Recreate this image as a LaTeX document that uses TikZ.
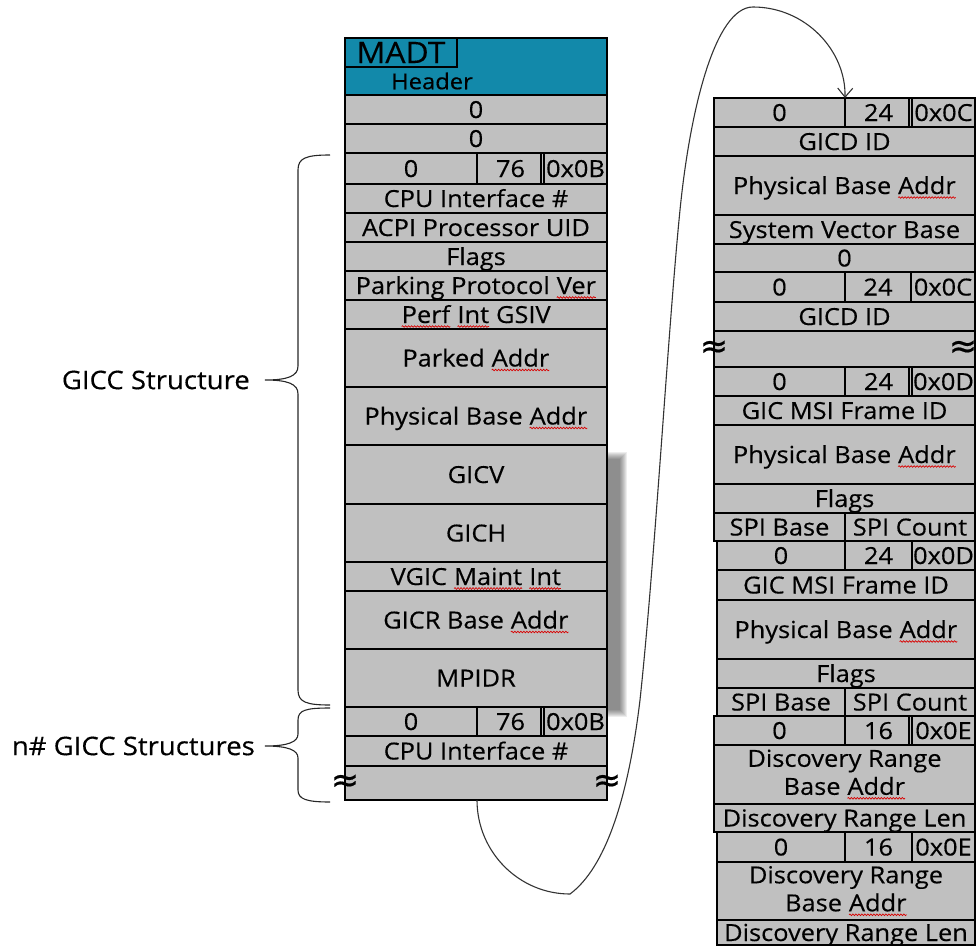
\documentclass[tikz,border=0pt]{standalone}
\usepackage{fontspec}
\setmainfont{Open Sans}
\newfontfamily\cellfont{Open Sans}[FakeBold=0.35,FakeStretch=1.08]
\newfontfamily\symfont{DejaVu Sans}[FakeBold=0.5]
\usetikzlibrary{arrows.meta,decorations.pathmorphing}
\definecolor{cellgray}{HTML}{C0C0C0}
\definecolor{madtblue}{HTML}{1289AA}
\newcommand\bodyfont{\cellfont\fontsize{23.5}{28}\selectfont}
\newcommand\sq[1]{\tikz[baseline=(sqw.base)]{\node[draw=none,fill=none,minimum width=0pt,minimum height=0pt,inner sep=0pt,outer sep=0pt,text height={},text depth={},anchor=center] (sqw) {#1};\draw[draw=red!85!black,line width=0.7pt,decorate,decoration={snake,amplitude=0.8pt,segment length=3pt}] ([yshift=-3.5pt]sqw.base west) -- ([yshift=-3.5pt]sqw.base east);}}
\newcommand\mkcell[6]{\node[cellst,minimum width=#4pt,minimum height=#5pt] (#1) at (#2,#3) {#6};}
\begin{document}
\begin{tikzpicture}[x=1pt,y=-1pt,
  cellst/.style={draw=black,line width=1.2pt,fill=cellgray,anchor=north west,inner sep=0pt,outer sep=0pt,font=\bodyfont,align=center,text height=17pt,text depth=0pt},
  twoline/.style={text height={},text depth={}},
  thk/.style={draw=black,line width=2.4pt},
  dbl/.style={draw=black,line width=1.2pt},
  sgl/.style={draw=black,line width=2pt},
  symst/.style={font=\symfont\fontsize{34}{34}\selectfont,inner sep=0pt},
  lbl/.style={font=\cellfont\fontsize{25.5}{28}\selectfont,inner sep=0pt,anchor=east},
  bracest/.style={draw=black!85,line width=1.1pt},
  conn/.style={draw=black!80,line width=1.1pt,-{Straight Barb[length=9pt,width=15pt]}}]
\useasboundingbox (0,0) rectangle (977,945);
\clip (0,0) rectangle (977,945);

% shadow
\foreach \r in {0,...,7} \fill[black,opacity=0.07] (353+\r,452+\r) rectangle (627-\r,717-\r);

% ---------- left column ----------
\node[draw=black,line width=1.2pt,fill=madtblue,anchor=north west,inner sep=0pt,outer sep=0pt,minimum width=262pt,minimum height=57pt] (hdr) at (345,38) {};
\node[draw=black,line width=1.2pt,anchor=north west,inner sep=0pt,outer sep=0pt,minimum width=112pt,minimum height=29pt,font=\cellfont\fontsize{29.5}{30}\selectfont,text height=21pt,text depth=0pt] (madt) at (345,38) {MADT};
\node[font=\cellfont\fontsize{22}{24}\selectfont,inner sep=0pt] (hdrtxt) at (432,81) {Header};

\mkcell{za}{345}{95}{262}{29}{0}
\mkcell{zb}{345}{124}{262}{29}{0}
\mkcell{ga}{345}{153}{132}{31}{0}
\mkcell{gb}{477}{153}{67}{31}{76}
\mkcell{gc}{544}{153}{63}{31}{0x0B}
\draw[dbl] (541,153) -- (541,184);
\mkcell{cpua}{345}{184}{262}{29}{CPU Interface \#}
\mkcell{acpi}{345}{213}{262}{29}{ACPI Processor UID}
\mkcell{flg}{345}{242}{262}{29}{Flags}
\mkcell{park}{345}{271}{262}{29}{Parking Protocol \sq{Ver}}
\mkcell{perf}{345}{300}{262}{29}{\sq{Perf} \sq{Int} GSIV}
\mkcell{parked}{345}{329}{262}{58}{Parked \sq{Addr}}
\mkcell{pba}{345}{387}{262}{58}{Physical Base \sq{Addr}}
\mkcell{gicv}{345}{445}{262}{59}{GICV}
\mkcell{gich}{345}{504}{262}{58}{GICH}
\mkcell{vgic}{345}{562}{262}{29}{VGIC \sq{Maint} \sq{Int}}
\mkcell{gicr}{345}{591}{262}{58}{GICR Base \sq{Addr}}
\mkcell{mpidr}{345}{649}{262}{58}{MPIDR}
\mkcell{ha}{345}{707}{132}{29}{0}
\mkcell{hb}{477}{707}{67}{29}{76}
\mkcell{hc}{544}{707}{63}{29}{0x0B}
\draw[dbl] (541,707) -- (541,736);
\mkcell{cpub}{345}{736}{262}{30}{CPU Interface \#}
\mkcell{lgap}{345}{766}{262}{34}{}

\draw[thk] (345,38) rectangle (607,800);
\draw[thk] (345,95) -- (607,95);
\draw[thk] (345,153) -- (607,153);
\draw[thk] (345,445) -- (607,445);
\draw[thk] (345,707) -- (607,707);

\node[symst] (lapl) at (345,783) {≈};
\node[symst] (lapr) at (607,783) {≈};

% ---------- right column ----------
\mkcell{ra}{714}{98}{131}{29}{0}
\mkcell{rb}{845}{98}{67}{29}{24}
\mkcell{rc}{912}{98}{63}{29}{0x0C}
\draw[dbl] (909,98) -- (909,127);
\mkcell{gicda}{714}{127}{261}{29}{GICD ID}
\mkcell{rpbaa}{714}{156}{261}{59}{Physical Base \sq{Addr}}
\mkcell{svb}{714}{215}{261}{29}{System Vector Base}
\mkcell{rz}{714}{244}{261}{28}{0}
\mkcell{sa}{714}{272}{131}{30}{0}
\mkcell{sb}{845}{272}{66}{30}{24}
\mkcell{sc}{911}{272}{64}{30}{0x0C}
\draw[sgl] (911,272) -- (911,302);
\mkcell{gicdb}{714}{302}{261}{29}{GICD ID}
\mkcell{rgap}{714}{331}{261}{36}{}
\mkcell{ta}{714}{367}{131}{29}{0}
\mkcell{tb}{845}{367}{67}{29}{24}
\mkcell{tc}{912}{367}{63}{29}{0x0D}
\draw[dbl] (909,367) -- (909,396);
\mkcell{msia}{714}{396}{261}{29}{GIC MSI Frame ID}
\mkcell{rpbab}{714}{425}{261}{59}{Physical Base \sq{Addr}}
\mkcell{rfla}{714}{484}{261}{29}{Flags}
\mkcell{spiaa}{714}{513}{131}{28}{SPI Base}
\mkcell{spiab}{845}{513}{130}{28}{SPI Count}
\mkcell{ua}{717}{541}{128}{29}{0}
\mkcell{ub}{845}{541}{67}{29}{24}
\mkcell{uc}{912}{541}{63}{29}{0x0D}
\draw[sgl] (912,541) -- (912,570);
\mkcell{msib}{717}{570}{258}{30}{GIC MSI Frame ID}
\mkcell{rpbac}{717}{600}{258}{59}{Physical Base \sq{Addr}}
\mkcell{rflb}{717}{659}{258}{29}{Flags}
\mkcell{spiba}{717}{688}{128}{28}{SPI Base}
\mkcell{spibb}{845}{688}{130}{28}{SPI Count}
\mkcell{va}{714}{716}{131}{29}{0}
\mkcell{vb}{845}{716}{67}{29}{16}
\mkcell{vc}{912}{716}{63}{29}{0x0E}
\draw[dbl] (909,716) -- (909,745);
\node[cellst,twoline,minimum width=261pt,minimum height=59pt] (drba) at (714,745) {Discovery Range\\Base \sq{Addr}};
\mkcell{drla}{714}{804}{261}{28}{Discovery Range Len}
\mkcell{wa}{717}{832}{128}{30}{0}
\mkcell{wb}{845}{832}{67}{30}{16}
\mkcell{wc}{912}{832}{63}{30}{0x0E}
\draw[sgl] (912,832) -- (912,862);
\node[cellst,twoline,minimum width=258pt,minimum height=58pt] (drbb) at (717,862) {Discovery Range\\Base \sq{Addr}};
\mkcell{drlb}{717}{920}{258}{25}{Discovery Range Len}

\draw[thk] (714,98) rectangle (975,272);
\draw[thk] (714,272) rectangle (975,367);
\draw[thk] (714,367) rectangle (975,541);
\draw[thk] (717,541) rectangle (975,716);
\draw[thk] (714,716) rectangle (975,832);
\draw[thk] (717,832) rectangle (975,960);

\node[symst] (rapl) at (714,349) {≈};
\node[symst] (rapr) at (963,349) {≈};

% ---------- labels and braces ----------
\node[lbl] (gicclbl) at (250,380) {GICC Structure};
\node[lbl] (nlbl) at (255,746) {n\# GICC Structures};
\draw[bracest] (330,155) .. controls (306,155) and (298,158) .. (298,170) -- (298,366)
  .. controls (298,376) and (288,380) .. (265,380)
  .. controls (288,380) and (298,384) .. (298,394) -- (298,690)
  .. controls (298,702) and (306,705) .. (330,705);
\draw[bracest] (330,708) .. controls (306,708) and (298,710) .. (298,720) -- (298,734)
  .. controls (298,742) and (288,746) .. (265,746)
  .. controls (288,746) and (298,750) .. (298,758) -- (298,790)
  .. controls (298,799) and (306,802) .. (330,802);

% ---------- connector ----------
\coordinate (cs) at (477,800);
\coordinate (ce) at (rb.north west);
\draw[conn] (cs) .. controls (477,852) and (519,894) .. (570,894)
  .. controls (605,868) and (628,800) .. (640,700)
  .. controls (655,560) and (668,330) .. (680,210)
  .. controls (690,110) and (715,7) .. (753,7)
  .. controls (805,7) and (846,50) .. (ce);
\end{tikzpicture}
\end{document}
